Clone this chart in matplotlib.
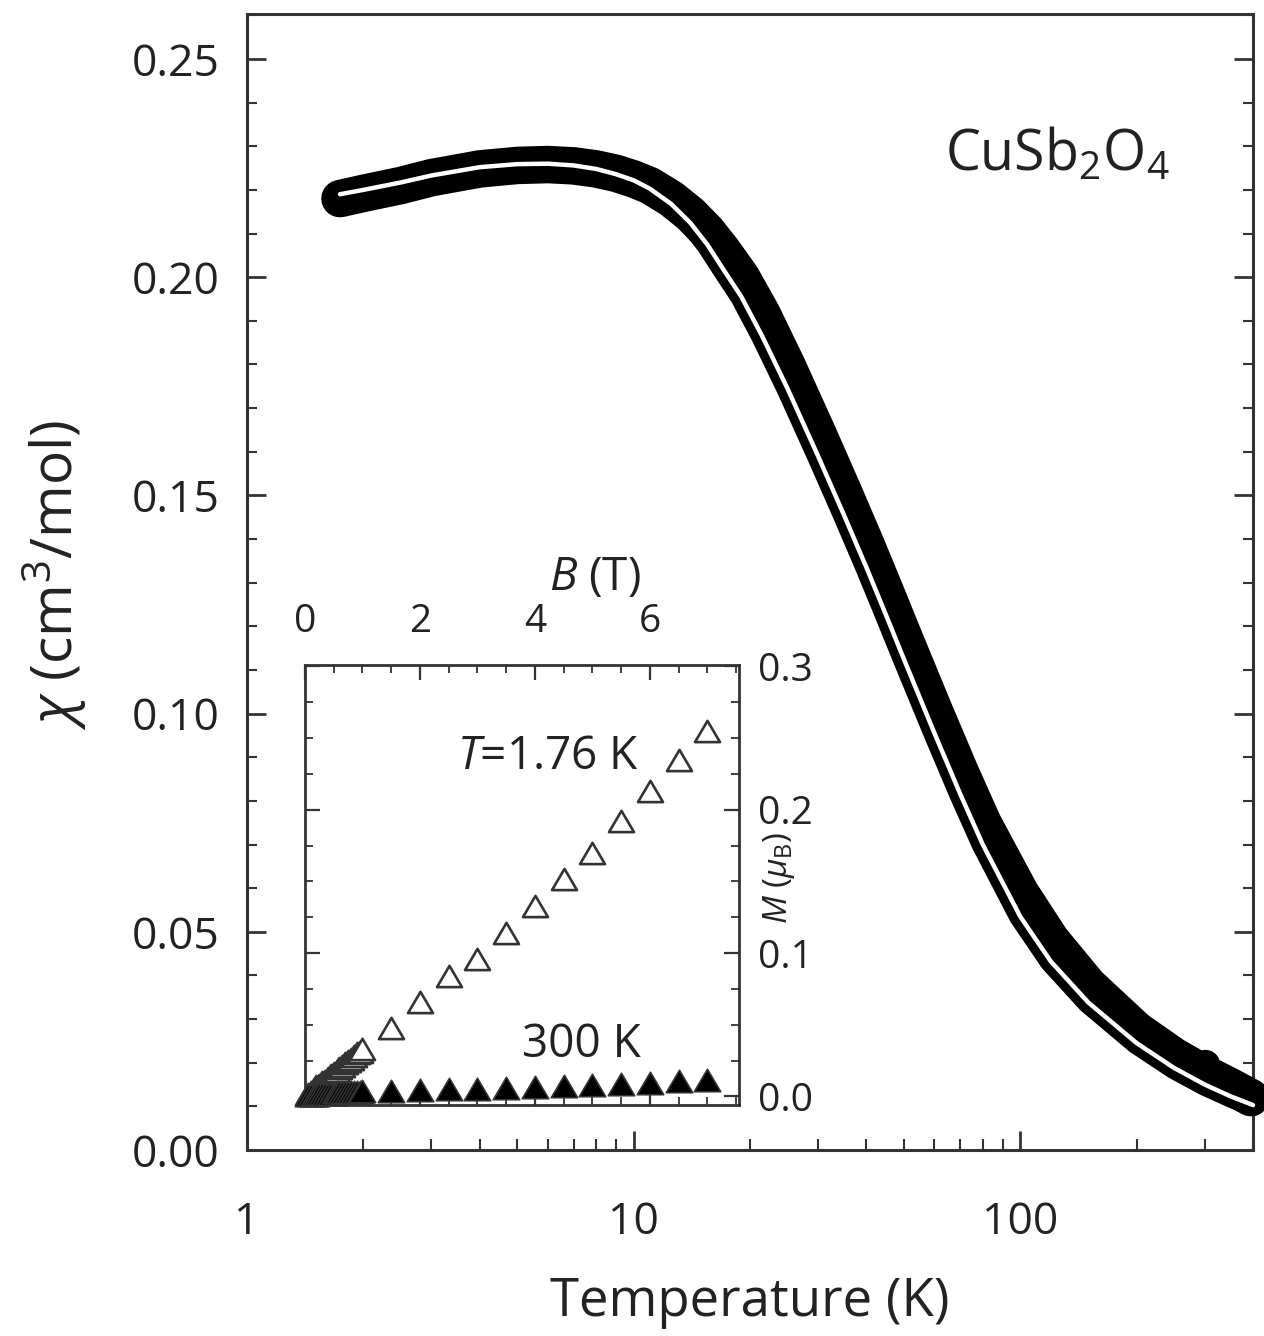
import numpy as np
import matplotlib
matplotlib.use("Agg")
import matplotlib.pyplot as plt
from matplotlib.path import Path
from matplotlib.ticker import MultipleLocator, LogLocator, NullFormatter, FixedLocator

# ---------------- data ----------------
# main: susceptibility data band (black) and fit (white)
T_data = [1.74, 2.0, 2.5, 3.0, 4.0, 5.0, 6.0, 7.0, 8.0, 9.0, 10.0, 11.0, 12.5, 14.0, 15.5,
          17.0, 19.0, 21.5, 25.0, 30.0, 35.0, 40.0, 45.0, 50.0, 60.0, 70.0, 80.0, 100.0,
          120.0, 150.0, 200.0, 250.0, 300.0, 350.0, 395.0]
chi_data = [0.2180, 0.2192, 0.2210, 0.2228, 0.2248, 0.2256, 0.2258, 0.2255, 0.2248, 0.2238,
            0.2225, 0.2210, 0.2180, 0.2145, 0.2105, 0.2060, 0.2000, 0.1915, 0.1795, 0.1640,
            0.1505, 0.1385, 0.1275, 0.1175, 0.1005, 0.0865, 0.0750, 0.0590, 0.0482, 0.0378,
            0.0275, 0.0215, 0.0175, 0.0145, 0.0120]
T_fit = [1.74, 2.0, 2.5, 3.0, 4.0, 5.0, 6.0, 7.0, 8.0, 9.0, 10.0, 11.0, 12.5, 14.0, 15.5,
         17.0, 19.0, 21.5, 25.0, 30.0, 35.0, 40.0, 45.0, 50.0, 60.0, 70.0, 80.0, 100.0,
         120.0, 150.0, 200.0, 250.0, 300.0, 350.0, 400.0]
chi_fit = [0.2190, 0.2200, 0.2217, 0.2233, 0.2252, 0.2259, 0.2260, 0.2256, 0.2248, 0.2236,
           0.2222, 0.2203, 0.2168, 0.2125, 0.2075, 0.2020, 0.1955, 0.1865, 0.1745, 0.1590,
           0.1455, 0.1335, 0.1225, 0.1125, 0.0955, 0.0815, 0.0700, 0.0535, 0.0432, 0.0338,
           0.0245, 0.0188, 0.0150, 0.0123, 0.0103]
T_outlier = [300.0]
chi_outlier = [0.0198]

# inset: magnetization M(B)
B_low = [0.05, 0.1, 0.15, 0.2, 0.25, 0.3, 0.35, 0.4, 0.45, 0.5, 0.55, 0.6, 0.65, 0.7, 0.75,
         0.8, 0.85, 0.9, 0.95]
M_low_176 = [0.002, 0.003, 0.005, 0.007, 0.008, 0.010, 0.011, 0.013, 0.015, 0.016, 0.018,
             0.020, 0.021, 0.023, 0.025, 0.026, 0.028, 0.030, 0.031]
M_low_300 = [0.001, 0.001, 0.001, 0.001, 0.002, 0.002, 0.002, 0.002, 0.002, 0.002, 0.003,
             0.003, 0.003, 0.003, 0.003, 0.003, 0.003, 0.003, 0.003]
B_high = [1.0, 1.5, 2.0, 2.5, 3.0, 3.5, 4.0, 4.5, 5.0, 5.5, 6.0, 6.5, 7.0]
M_high_176 = [0.033, 0.048, 0.066, 0.084, 0.096, 0.114, 0.133, 0.152, 0.170, 0.192, 0.213,
              0.235, 0.255]
M_high_300 = [0.0035, 0.004, 0.0045, 0.005, 0.0055, 0.006, 0.0068, 0.0075, 0.008, 0.009,
              0.0095, 0.0105, 0.0115]

x_ticks_main = [1, 10, 100]
x_ticklabels_main = ["1", "10", "100"]
y_ticks_main = [0.00, 0.05, 0.10, 0.15, 0.20, 0.25]
y_ticklabels_main = ["0.00", "0.05", "0.10", "0.15", "0.20", "0.25"]
inset_x_ticks = [0, 2, 4, 6]
inset_y_ticks = [0.0, 0.1, 0.2, 0.3]
inset_y_ticklabels = ["0.0", "0.1", "0.2", "0.3"]

# ---------------- style ----------------
FONT = "Open Sans"
plt.rcParams["font.family"] = [FONT, "DejaVu Sans"]
plt.rcParams["mathtext.fontset"] = "custom"
plt.rcParams["mathtext.rm"] = FONT
plt.rcParams["mathtext.it"] = FONT + ":italic"
plt.rcParams["mathtext.bf"] = FONT + ":bold"
TXT = "#222222"
AX = "#333333"

W, H = 1264, 1336
fig = plt.figure(figsize=(W / 100, H / 100), dpi=100)

ax = fig.add_axes([247 / W, 1 - 1150 / H, 1006 / W, 1136 / H])
ax.set_xscale("log")
ax.set_xlim(1, 400)
ax.set_ylim(0, 0.2603)

ax.plot(T_data, chi_data, color="black", lw=27, solid_capstyle="round",
        solid_joinstyle="round", clip_on=False, zorder=3)
ax.plot(T_outlier, chi_outlier, "o", color="black", ms=20, clip_on=False, zorder=3)
ax.plot(T_fit, chi_fit, color="black", lw=16, solid_capstyle="round",
        solid_joinstyle="round", clip_on=False, zorder=3)
ax.plot(T_fit, chi_fit, color="white", lw=3.2, solid_capstyle="round",
        solid_joinstyle="round", clip_on=False, zorder=4)

for s in ax.spines.values():
    s.set_linewidth(2.2)
    s.set_color(AX)

ax.xaxis.set_major_locator(FixedLocator(x_ticks_main))
ax.set_xticklabels(x_ticklabels_main)
ax.xaxis.set_minor_locator(LogLocator(base=10, subs=np.arange(2, 10)))
ax.xaxis.set_minor_formatter(NullFormatter())
ax.set_yticks(y_ticks_main)
ax.set_yticklabels(y_ticklabels_main)
ax.yaxis.set_minor_locator(MultipleLocator(0.01))
ax.tick_params(axis="both", which="both", direction="in", colors=AX,
               labelcolor=TXT, labelsize=32)
ax.tick_params(axis="x", which="major", length=14, width=2, pad=36, top=False)
ax.tick_params(axis="x", which="minor", length=8, width=1.5, top=False)
ax.tick_params(axis="y", which="major", length=14, width=2, pad=20, right=True)
ax.tick_params(axis="y", which="minor", length=7, width=1.5, right=True)

fig.text(750 / W, 1 - 1302 / H, "Temperature (K)", fontsize=38, ha="center",
         va="center", color=TXT)
fig.text(55 / W, 1 - 575 / H, r"$\chi$ (cm$^3$/mol)", fontsize=41, rotation=90,
         ha="center", va="center", color=TXT)

ax.text((1057 - 247) / 1006, (1150 - 170) / 1136, r"CuSb$_2$O$_4$",
        transform=ax.transAxes, fontsize=40, ha="center", va="baseline", color=TXT)

# ---------------- inset ----------------
ins = fig.add_axes([305 / W, 1 - 1105 / H, 434 / W, 440 / H])
ins.set_xlim(0, 7.55)
ins.set_ylim(-0.006, 0.301)

tri = Path([(-1, -0.85), (1, -0.85), (0, 0.85), (-1, -0.85)], closed=True)
ins.plot(B_low, M_low_176, linestyle="none", marker=tri, ms=18, mfc="white",
         mec=AX, mew=1.9, clip_on=False, zorder=3)
ins.plot(B_high, M_high_176, linestyle="none", marker=tri, ms=18, mfc="white",
         mec=AX, mew=1.9, clip_on=False, zorder=3)
ins.plot(B_low, M_low_300, linestyle="none", marker=tri, ms=19, mfc="black",
         mec=AX, mew=1.2, clip_on=False, zorder=4)
ins.plot(B_high, M_high_300, linestyle="none", marker=tri, ms=19, mfc="black",
         mec=AX, mew=1.2, clip_on=False, zorder=4)

for s in ins.spines.values():
    s.set_linewidth(2.0)
    s.set_color(AX)

ins.set_xticks(inset_x_ticks)
ins.xaxis.set_minor_locator(MultipleLocator(0.5))
ins.set_yticks(inset_y_ticks)
ins.set_yticklabels(inset_y_ticklabels)
ins.yaxis.set_minor_locator(MultipleLocator(0.025))
ins.tick_params(axis="both", which="both", direction="in", colors=AX,
                labelcolor=TXT, labelsize=28)
ins.tick_params(axis="x", which="both", top=True, bottom=True, labeltop=True,
                labelbottom=False)
ins.tick_params(axis="y", which="both", left=True, right=True, labelleft=False,
                labelright=True)
ins.tick_params(axis="both", which="major", length=11, width=1.6)
ins.tick_params(axis="both", which="minor", length=6, width=1.3)
ins.tick_params(axis="x", which="major", pad=17)
ins.tick_params(axis="y", which="major", pad=14)

fig.text(595 / W, 1 - 578 / H, r"$B$ (T)", fontsize=33, ha="center", va="center",
         color=TXT)
fig.text(779 / W, 1 - 878 / H, r"$M$ ($\mu_{\rm B}$)", rotation=90, fontsize=24,
         ha="center", va="center", color=TXT)

fig.text(548 / W, 1 - 757 / H, r"$T$=1.76 K", fontsize=33, ha="center",
         va="center", color=TXT)
fig.text(581 / W, 1 - 1045 / H, "300 K", fontsize=33, ha="center", va="center",
         color=TXT)

fig.savefig("out.png", dpi=100)
